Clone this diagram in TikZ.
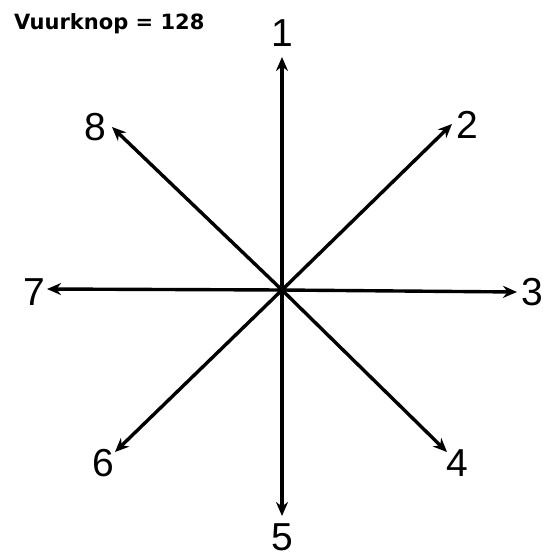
\documentclass[tikz,border=0pt]{standalone}
\usepackage{fontspec}
\setmainfont{Liberation Sans}
\newfontfamily\titlefont{DejaVu Sans}
\usetikzlibrary{arrows.meta}
\tikzset{
  ray/.style={line width=3.4pt,-{Stealth[length=14pt,width=12pt]}},
  digit/.style={font=\fontsize{39}{39}\selectfont,inner sep=0pt}
}
\begin{document}
\begin{tikzpicture}[x=1pt,y=-1pt]
\useasboundingbox (0,0) rectangle (552,560);
\node[font=\titlefont\bfseries\fontsize{21}{21}\selectfont,anchor=base west,inner sep=0pt] (title) at (14,29) {Vuurknop = 128};

\coordinate (c) at (282,290);

\node[digit] (n1) at (282,33) {1};
\node[digit] (n2) at (467,125) {2};
\node[digit] (n3) at (532,292) {3};
\node[digit] (n4) at (457,463) {4};
\node[digit] (n5) at (282,537) {5};
\node[digit] (n6) at (103,463) {6};
\node[digit] (n7) at (34,292) {7};
\node[digit] (n8) at (95,127) {8};

\coordinate (t1) at (282,57);
\coordinate (t2) at (452,124);
\coordinate (t3) at (517,292);
\coordinate (t4) at (447,452);
\coordinate (t5) at (282,516);
\coordinate (t6) at (115,452);
\coordinate (t7) at (47,289);
\coordinate (t8) at (112,127);

\draw[ray] (c) -- (t1);
\draw[ray] (c) -- (t2);
\draw[ray] (c) -- (t3);
\draw[ray] (c) -- (t4);
\draw[ray] (c) -- (t5);
\draw[ray] (c) -- (t6);
\draw[ray] (c) -- (t7);
\draw[ray] (c) -- (t8);
\fill (c) circle (5);
\end{tikzpicture}
\end{document}
